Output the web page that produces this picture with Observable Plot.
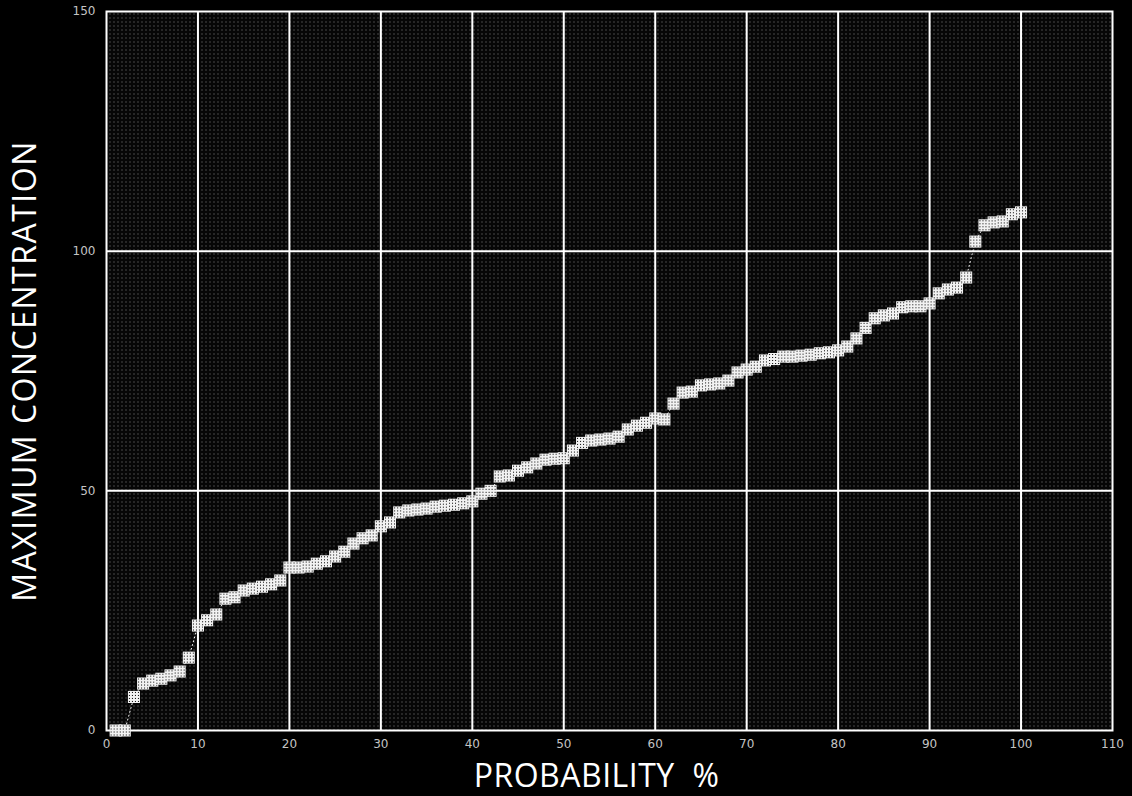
<!DOCTYPE html>
<html>
<head>
<meta charset="utf-8">
<script src="https://cdn.jsdelivr.net/npm/d3@7"></script>
<script src="https://cdn.jsdelivr.net/npm/@observablehq/plot@0.6"></script>
<style>
  html, body { margin: 0; padding: 0; background: #000; }
  #chart { width: 1132px; height: 796px; overflow: hidden; }
</style>
</head>
<body>
<div id="chart"></div>
<script>
const probability = [1,2,3,4,5,6,7,8,9,10,11,12,13,14,15,16,17,18,19,20,
  21,22,23,24,25,26,27,28,29,30,31,32,33,34,35,36,37,38,39,40,
  41,42,43,44,45,46,47,48,49,50,51,52,53,54,55,56,57,58,59,60,
  61,62,63,64,65,66,67,68,69,70,71,72,73,74,75,76,77,78,79,80,
  81,82,83,84,85,86,87,88,89,90,91,92,93,94,95,96,97,98,99,100];
const concentration = [0,0,7,9.8,10.4,10.8,11.5,12.3,15.2,21.9,
  23,24.2,27.5,27.8,29.2,29.6,30,30.5,31.3,34,
  34,34.2,34.8,35.3,36.3,37.3,39,40.1,40.7,42.6,
  43.4,45.5,45.9,46.1,46.3,46.7,46.9,47.1,47.4,47.8,
  49.4,50,53,53.2,54.2,54.9,55.7,56.5,56.7,56.8,
  58.4,60,60.5,60.7,60.9,61.3,62.8,63.6,64.2,65.1,
  64.9,68.2,70.5,70.7,72,72.2,72.4,73,74.7,75.3,
  75.9,77.2,77.5,78,78,78.2,78.4,78.7,78.9,79.3,
  80.1,81.8,84,86,86.6,87,88.3,88.5,88.5,89.1,
  91.2,92,92.4,94.5,102,105.4,106,106.2,107.7,108.1];
const xTicks = [0,10,20,30,40,50,60,70,80,90,100,110];
const yTicks = [0,50,100,150];
const xGrid = [10,20,30,40,50,60,70,80,90,100];
const yGrid = [50,100];
const xTitle = "PROBABILITY\u00a0\u00a0%";
const yTitle = "MAXIMUM CONCENTRATION";

const data = probability.map((p, i) => ({p, c: concentration[i]}));

const svg = Plot.plot({
  width: 1132,
  height: 796,
  marginLeft: 106,
  marginRight: 20,
  marginTop: 11,
  marginBottom: 66,
  style: {background: "#000", color: "#c4c4c4", fontFamily: "DejaVu Sans", fontSize: "12px"},
  x: {domain: [0, 110]},
  y: {domain: [0, 150]},
  marks: [
    Plot.frame({fill: "url(#dots)", stroke: null}),
    Plot.ruleX(xGrid, {stroke: "#fff", strokeWidth: 2}),
    Plot.ruleY(yGrid, {stroke: "#fff", strokeWidth: 2}),
    Plot.frame({stroke: "#fff", strokeWidth: 2}),
    Plot.axisX(xTicks, {tickSize: 0, tickPadding: 9, label: null, fontSize: 12}),
    Plot.axisY(yTicks, {tickSize: 0, tickPadding: 11, label: null, fontSize: 12}),
    Plot.line(data, {x: "p", y: "c", stroke: "#fff", strokeWidth: 1, strokeDasharray: "1,3"}),
    Plot.dot(data, {x: "p", y: "c", symbol: "square", r: 6.8, fill: "url(#hatch)", stroke: null}),
    Plot.text([xTitle], {frameAnchor: "bottom", textAnchor: "middle", lineAnchor: "middle", dx: -13, dy: 46, fill: "#fff", fontSize: 32, fontFamily: "Open Sans"}),
    Plot.text([yTitle], {frameAnchor: "left", textAnchor: "middle", lineAnchor: "middle", dx: -81, rotate: -90, fill: "#fff", fontSize: 32, fontFamily: "Open Sans"})
  ]
});

const defs = d3.select(svg).insert("defs", ":first-child");
const dots = defs.append("pattern").attr("id", "dots").attr("patternUnits", "userSpaceOnUse")
  .attr("width", 4).attr("height", 4);
dots.append("rect").attr("width", 4).attr("height", 4).attr("fill", "#060606");
dots.append("rect").attr("x", 1).attr("y", 1).attr("width", 1).attr("height", 1).attr("fill", "#858585");
const hatch = defs.append("pattern").attr("id", "hatch").attr("patternUnits", "userSpaceOnUse")
  .attr("width", 3).attr("height", 3);
hatch.append("rect").attr("width", 3).attr("height", 3).attr("fill", "#f2f2f2");
hatch.append("rect").attr("x", 1).attr("y", 1).attr("width", 1).attr("height", 1).attr("fill", "#000");

d3.select(svg).selectAll("text").each(function() {
  const t = this.textContent;
  if (t === yTitle) d3.select(this).attr("letter-spacing", "1.5px");
  if (t === xTitle) d3.select(this).attr("letter-spacing", "0.5px");
});

document.getElementById("chart").appendChild(svg);
</script>
</body>
</html>
